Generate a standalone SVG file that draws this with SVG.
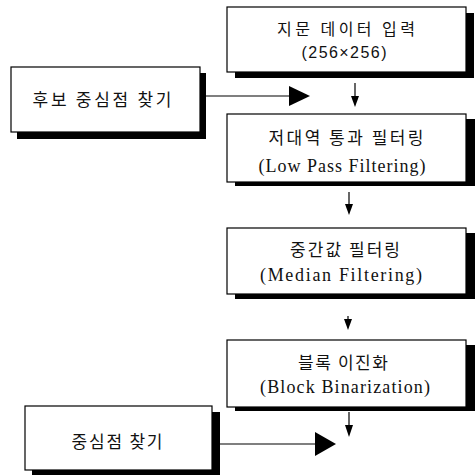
<svg xmlns="http://www.w3.org/2000/svg" width="475" height="475" viewBox="0 0 475 475">
<style>
.sh{fill:#000}
.bx{fill:#fff;stroke:#000;stroke-width:1.2}
.kr{font-family:"Noto Sans CJK KR","Noto Sans",sans-serif;font-size:17px;fill:#111;text-anchor:middle;dominant-baseline:central}
.en{font-family:"Liberation Serif",serif;font-size:18px;fill:#111;text-anchor:middle;dominant-baseline:central}
.num{font-family:"Liberation Sans",sans-serif;font-size:16px;fill:#111;text-anchor:middle;dominant-baseline:central}
.ln{stroke:#000;stroke-width:1.2;fill:none}
.hd{fill:#000}
</style>
<rect width="475" height="475" fill="#fff"/>
<g id="input">
<rect class="sh" x="235" y="13" width="239" height="65"/>
<rect class="bx" x="227" y="7" width="239" height="65"/>
<text class="kr" x="346" y="28" textLength="138" lengthAdjust="spacing" style="font-size:16px">지문 데이터 입력</text>
<text class="num" x="344" y="52" textLength="85" lengthAdjust="spacing">(256×256)</text>
</g>
<g id="candidate">
<rect class="sh" x="17" y="73" width="189" height="66"/>
<rect class="bx" x="11" y="67" width="189" height="65"/>
<text class="kr" x="102" y="98" textLength="139" lengthAdjust="spacing">후보 중심점 찾기</text>
</g>
<g id="lowpass">
<rect class="sh" x="235" y="119" width="240" height="67"/>
<rect class="bx" x="227" y="114" width="239" height="68"/>
<text class="kr" x="346" y="136" textLength="155" lengthAdjust="spacing">저대역 통과 필터링</text>
<text class="en" x="342" y="166" textLength="167" lengthAdjust="spacing">(Low Pass Filtering)</text>
</g>
<g id="median">
<rect class="sh" x="235" y="233" width="240" height="66"/>
<rect class="bx" x="227" y="228" width="239" height="66"/>
<text class="kr" x="345" y="248" textLength="110" lengthAdjust="spacing">중간값 필터링</text>
<text class="en" x="341" y="275" textLength="162" lengthAdjust="spacing">(Median Filtering)</text>
</g>
<g id="binarize">
<rect class="sh" x="235" y="345" width="240" height="66"/>
<rect class="bx" x="227" y="340" width="239" height="67"/>
<text class="kr" x="343" y="361" textLength="90" lengthAdjust="spacing">블록 이진화</text>
<text class="en" x="345" y="387" textLength="170" lengthAdjust="spacing">(Block Binarization)</text>
</g>
<g id="center">
<rect class="sh" x="32" y="412" width="188" height="66"/>
<rect class="bx" x="25" y="406" width="187" height="64"/>
<text class="kr" x="117" y="440" textLength="91" lengthAdjust="spacing">중심점 찾기</text>
</g>
<g id="connectors">
<line class="ln" x1="206" y1="96" x2="290" y2="96"/>
<polygon class="hd" points="289,86 310,96 289,106"/>
<line class="ln" x1="355" y1="83" x2="355" y2="98"/>
<polygon class="hd" points="351,96 359,96 355,107"/>
<line class="ln" x1="349" y1="192" x2="349" y2="206"/>
<polygon class="hd" points="345,204 353,204 349,215"/>
<line class="ln" x1="348" y1="316" x2="348" y2="321"/>
<polygon class="hd" points="344,319 352,319 348,330"/>
<line class="ln" x1="349" y1="412" x2="349" y2="427"/>
<polygon class="hd" points="345,425 353,425 349,437"/>
<line class="ln" x1="220" y1="444" x2="316" y2="444"/>
<polygon class="hd" points="315,432 336,444 315,456"/>
</g>
</svg>
